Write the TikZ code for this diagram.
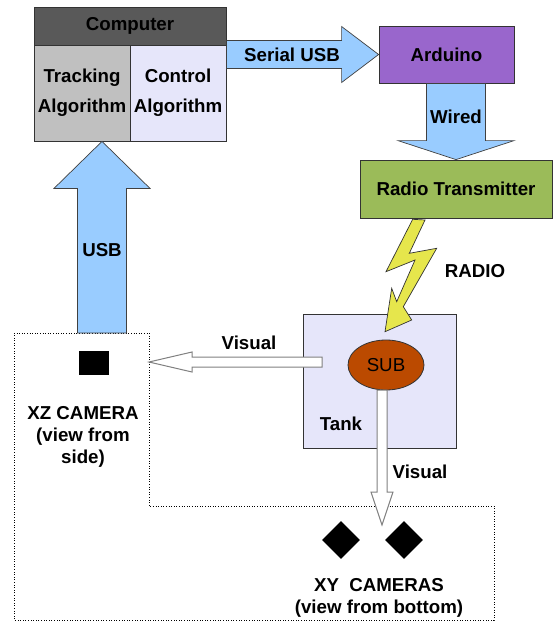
\documentclass[tikz,border=0pt]{standalone}
\usepackage{fontspec}
\setmainfont{Liberation Sans}
\usetikzlibrary{calc,shapes.geometric}

\definecolor{headgray}{HTML}{595959}
\definecolor{trackgray}{HTML}{C0C0C0}
\definecolor{paleblue}{HTML}{E6E6FA}
\definecolor{usbblue}{HTML}{99CCFF}
\definecolor{ardpurple}{HTML}{9966CC}
\definecolor{radiogreen}{HTML}{9BBB59}
\definecolor{subbrown}{HTML}{BB4A00}
\definecolor{boltyellow}{HTML}{E6E64C}

\begin{document}
\begin{tikzpicture}[x=1pt,y=-1pt,
  every node/.style={font=\fontsize{18.7}{22}\selectfont\bfseries},
  box/.style={draw=black!80, line width=0.8pt, inner sep=0pt, align=center},
  fatarrow/.style={draw=black!75, line width=0.7pt, fill=usbblue},
  seearrow/.style={draw=black!50, line width=1pt, fill=white}]

\useasboundingbox (0,0) rectangle (554,622);

% computer
\node [box, fill=headgray, minimum width=192pt, minimum height=38pt] (computer) at (130,26) {Computer};
\node [box, fill=trackgray, minimum width=96pt, minimum height=96pt, font=\fontsize{18.7}{30}\selectfont\bfseries] (tracking) at (82,93) {Tracking\\Algorithm};
\node [box, fill=paleblue, minimum width=96pt, minimum height=96pt, font=\fontsize{18.7}{30}\selectfont\bfseries] (control) at (178,93) {Control\\Algorithm};

\node [box, fill=ardpurple, minimum width=135pt, minimum height=57pt] (arduino) at (446.5,54.5) {Arduino};
\node [box, fill=radiogreen, minimum width=192pt, minimum height=58pt] (radio) at (456,189) {Radio Transmitter};

% camera area
\draw [dotted, line width=0.6pt] (14,333) -- (149,333) -- (149,506) -- (494,506) -- (494,620) -- (14,620) -- cycle;

\node [fill=black, minimum width=30pt, minimum height=24pt, inner sep=0pt] (xzcam) at (94,363) {};
\node [align=center, inner sep=0pt] (xzlabel) at (83,437) {XZ CAMERA\\(view from\\side)};

\foreach \i/\px in {1/341,2/404}
{
\node [diamond, fill=black, minimum width=38pt, minimum height=38pt, inner sep=0pt] (xycam\i) at (\px,540) {};
}
\node [align=center, inner sep=0pt] (xylabel) at (379,598) {XY~~CAMERAS\\(view from bottom)};

% tank
\node [box, fill=paleblue, minimum width=153pt, minimum height=134pt] (tank) at (379.5,381) {};
\node [inner sep=0pt] (tanklabel) at (341,424) {Tank};
\node [ellipse, draw=black!80, line width=0.8pt, fill=subbrown, minimum width=76pt, minimum height=50pt, inner sep=0pt, font=\fontsize{18.7}{22}\selectfont] (sub) at (386,365) {SUB};

% arrow ends
\coordinate (serialA) at (computer.east |- arduino.west);
\coordinate (wiredA) at (radio.north |- arduino.south);
\coordinate (usbA) at (102,333);
\coordinate (usbB) at (usbA |- tracking.south);
\coordinate (visA) at (322,362);
\coordinate (visB) at (149,362);
\coordinate (visC) at (382,390);
\coordinate (visD) at (382,525);

\foreach \src/\dst/\w/\hw/\hl/\kind in {serialA/arduino.west/14pt/28pt/37pt/fatarrow,
  wiredA/radio.north/29.5pt/58pt/19pt/fatarrow, usbA/usbB/24.5pt/48pt/47pt/fatarrow,
  visA/visB/5pt/10pt/43pt/seearrow, visC/visD/5pt/11pt/33pt/seearrow}
{
\coordinate (neck) at ($(\dst)!\hl!(\src)$);
\draw [\kind] ($(\src)!\w!90:(\dst)$) -- ($(neck)!\w!90:(\dst)$) -- ($(neck)!\hw!90:(\dst)$) -- (\dst)
  -- ($(neck)!\hw!-90:(\dst)$) -- ($(neck)!\w!-90:(\dst)$) -- ($(\src)!\w!-90:(\dst)$) -- cycle;
}

% radio bolt
\draw [draw=black!80, line width=0.7pt, fill=boltyellow] (412.7,219.3) -- (386,271.7) -- (415,260) -- (396.7,301.7)
  -- (391.7,288.3) -- (385,331.7) -- (411.7,320) -- (403.3,306.7) -- (436.7,248.3) -- (409.3,253.3) -- (425,220) -- cycle;

\node [inner sep=0pt] (seriallabel) at (292,55) {Serial USB};
\node [inner sep=0pt] (wiredlabel) at (456,117) {Wired};
\node [inner sep=0pt] (usblabel) at (102,250) {USB};
\node [inner sep=0pt] (radiolabel) at (475,271) {RADIO};
\node [inner sep=0pt] (vislabelA) at (249,343) {Visual};
\node [inner sep=0pt] (vislabelB) at (420,472) {Visual};

\end{tikzpicture}
\end{document}
